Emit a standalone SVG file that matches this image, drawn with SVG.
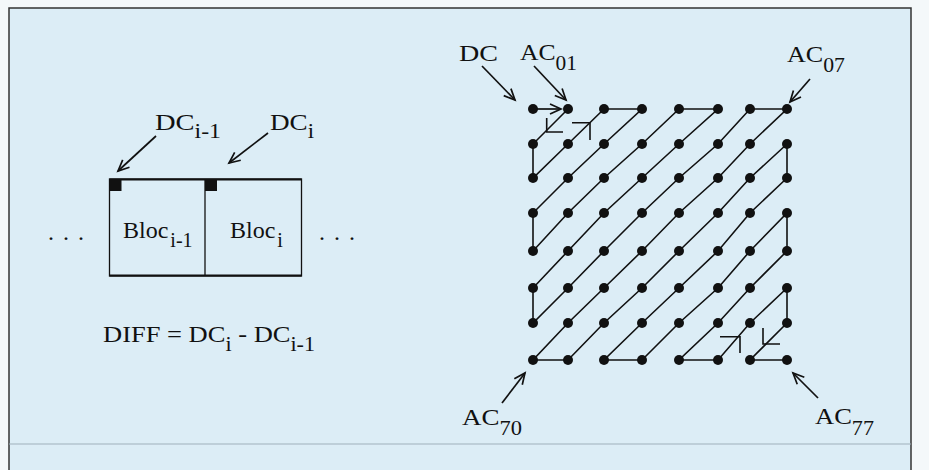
<svg xmlns="http://www.w3.org/2000/svg" width="929" height="470" viewBox="0 0 929 470">
<defs>
<marker id="arr" markerUnits="userSpaceOnUse" markerWidth="16" markerHeight="16" refX="0" refY="0" viewBox="-12 -8 14 16" orient="auto" overflow="visible">
<path d="M-11,-5 L0,0 L-11,5" fill="none" stroke="#111" stroke-width="1.7"/>
</marker>
<style>
.t{font-family:"Liberation Serif","Times New Roman",serif;font-size:24px;fill:#111}
.s{font-size:20px}
.ln{fill:none;stroke:#111;stroke-width:1.6}
.ar{fill:none;stroke:#111;stroke-width:1.7;marker-end:url(#arr)}
.dot{fill:#111}
</style>
</defs>
<rect x="0" y="0" width="929" height="470" fill="#f4f8fa"/>
<rect x="9" y="8" width="902" height="462" fill="#dcedf6"/>
<g id="frame" fill="none">
<path d="M9,470 V8 H911 V470" stroke="#333" stroke-width="1.5"/>
<path d="M9,444 H911" stroke="#9fb0bb" stroke-width="1"/>
</g>

<g id="blocks">
<rect x="109.5" y="179" width="192" height="97" fill="none" stroke="#111" stroke-width="1.3"/>
<path d="M109.5,179.5 H301.5 M109.5,275.5 H301.5" stroke="#111" stroke-width="2.2"/>
<line x1="205" y1="179" x2="205" y2="276" stroke="#111" stroke-width="1.3"/>
<rect x="109.5" y="179" width="12" height="12" fill="#111"/>
<rect x="205" y="179" width="12" height="12" fill="#111"/>
</g>
<g id="bloc-prev"><text class="t" x="123" y="238" font-size="20">Bloc<tspan class="s" dx="2" dy="9" font-size="19">i-1</tspan></text></g>
<g id="bloc-cur"><text class="t" x="230" y="238" font-size="20">Bloc<tspan class="s" dx="2" dy="9" font-size="19">i</tspan></text></g>
<g id="dots-left"><text class="t" x="48" y="240" letter-spacing="9">...</text></g>
<g id="dots-right"><text class="t" x="319" y="240" letter-spacing="9">...</text></g>
<g id="label-dc-prev"><text class="t" x="155" y="130" textLength="66" lengthAdjust="spacingAndGlyphs">DC<tspan class="s" dy="8">i-1</tspan></text></g>
<g id="label-dc-cur"><text class="t" x="270" y="130" textLength="44" lengthAdjust="spacingAndGlyphs">DC<tspan class="s" dy="8">i</tspan></text></g>
<g id="formula"><text class="t" x="103" y="342" font-size="25" textLength="212" lengthAdjust="spacingAndGlyphs">DIFF = DC<tspan class="s" dy="9">i</tspan><tspan dy="-9"> - DC</tspan><tspan class="s" dy="9">i-1</tspan></text></g>

<g id="label-dc"><text class="t" x="459" y="61" textLength="39" lengthAdjust="spacingAndGlyphs">DC</text></g>
<g id="label-ac01"><text class="t" x="520" y="60" textLength="57" lengthAdjust="spacingAndGlyphs">AC<tspan class="s" dy="10">01</tspan></text></g>
<g id="label-ac07"><text class="t" x="787" y="62" textLength="58" lengthAdjust="spacingAndGlyphs">AC<tspan class="s" dy="10">07</tspan></text></g>
<g id="label-ac70"><text class="t" x="462" y="425" textLength="60" lengthAdjust="spacingAndGlyphs">AC<tspan class="s" dy="10">70</tspan></text></g>
<g id="label-ac77"><text class="t" x="815" y="424" textLength="59" lengthAdjust="spacingAndGlyphs">AC<tspan class="s" dy="11">77</tspan></text></g>

<g id="connectors">
<line class="ar" x1="156" y1="136" x2="118" y2="171"/>
<line class="ar" x1="268" y1="133" x2="229" y2="163"/>
<line class="ar" x1="482" y1="66" x2="515" y2="100"/>
<line class="ar" x1="534" y1="66" x2="566" y2="100"/>
<line class="ar" x1="810" y1="79" x2="790" y2="102"/>
<line class="ar" x1="502" y1="403" x2="525" y2="373"/>
<line class="ar" x1="818" y1="398" x2="793" y2="373"/>
<line class="ar" x1="533" y1="109" x2="561" y2="109"/>
<polyline class="ln" points="568,109 533,144 533,178 568,144 604,109 642,109 604,144 568,178 533,213 533,251 568,213 604,178 642,144 679,109 718,109 679,144 642,178 604,213 568,251 533,288 533,323 568,288 604,251 642,213 679,178 718,144 750,109 787,109 750,144 718,178 679,213 642,251 604,288 568,323 533,360 568,360 604,323 642,288 679,251 718,213 750,178 787,144 787,178 750,213 718,251 679,288 642,323 604,360 642,360 679,323 718,288 750,251 787,213 787,251 750,288 718,323 679,360 718,360 750,323 787,288 787,323 750,360 787,360"/>
<path class="ln" d="M546.7,118 V132 H563 M572,122.7 H590 V140 M720,336.7 H740 V353 M763,328 V344 H780"/>
</g>

<g id="grid" class="dot">
<circle cx="533" cy="109" r="5"/><circle cx="568" cy="109" r="5"/><circle cx="604" cy="109" r="5"/><circle cx="642" cy="109" r="5"/><circle cx="679" cy="109" r="5"/><circle cx="718" cy="109" r="5"/><circle cx="750" cy="109" r="5"/><circle cx="787" cy="109" r="5"/>
<circle cx="533" cy="144" r="5"/><circle cx="568" cy="144" r="5"/><circle cx="604" cy="144" r="5"/><circle cx="642" cy="144" r="5"/><circle cx="679" cy="144" r="5"/><circle cx="718" cy="144" r="5"/><circle cx="750" cy="144" r="5"/><circle cx="787" cy="144" r="5"/>
<circle cx="533" cy="178" r="5"/><circle cx="568" cy="178" r="5"/><circle cx="604" cy="178" r="5"/><circle cx="642" cy="178" r="5"/><circle cx="679" cy="178" r="5"/><circle cx="718" cy="178" r="5"/><circle cx="750" cy="178" r="5"/><circle cx="787" cy="178" r="5"/>
<circle cx="533" cy="213" r="5"/><circle cx="568" cy="213" r="5"/><circle cx="604" cy="213" r="5"/><circle cx="642" cy="213" r="5"/><circle cx="679" cy="213" r="5"/><circle cx="718" cy="213" r="5"/><circle cx="750" cy="213" r="5"/><circle cx="787" cy="213" r="5"/>
<circle cx="533" cy="251" r="5"/><circle cx="568" cy="251" r="5"/><circle cx="604" cy="251" r="5"/><circle cx="642" cy="251" r="5"/><circle cx="679" cy="251" r="5"/><circle cx="718" cy="251" r="5"/><circle cx="750" cy="251" r="5"/><circle cx="787" cy="251" r="5"/>
<circle cx="533" cy="288" r="5"/><circle cx="568" cy="288" r="5"/><circle cx="604" cy="288" r="5"/><circle cx="642" cy="288" r="5"/><circle cx="679" cy="288" r="5"/><circle cx="718" cy="288" r="5"/><circle cx="750" cy="288" r="5"/><circle cx="787" cy="288" r="5"/>
<circle cx="533" cy="323" r="5"/><circle cx="568" cy="323" r="5"/><circle cx="604" cy="323" r="5"/><circle cx="642" cy="323" r="5"/><circle cx="679" cy="323" r="5"/><circle cx="718" cy="323" r="5"/><circle cx="750" cy="323" r="5"/><circle cx="787" cy="323" r="5"/>
<circle cx="533" cy="360" r="5"/><circle cx="568" cy="360" r="5"/><circle cx="604" cy="360" r="5"/><circle cx="642" cy="360" r="5"/><circle cx="679" cy="360" r="5"/><circle cx="718" cy="360" r="5"/><circle cx="750" cy="360" r="5"/><circle cx="787" cy="360" r="5"/>
</g>
</svg>
